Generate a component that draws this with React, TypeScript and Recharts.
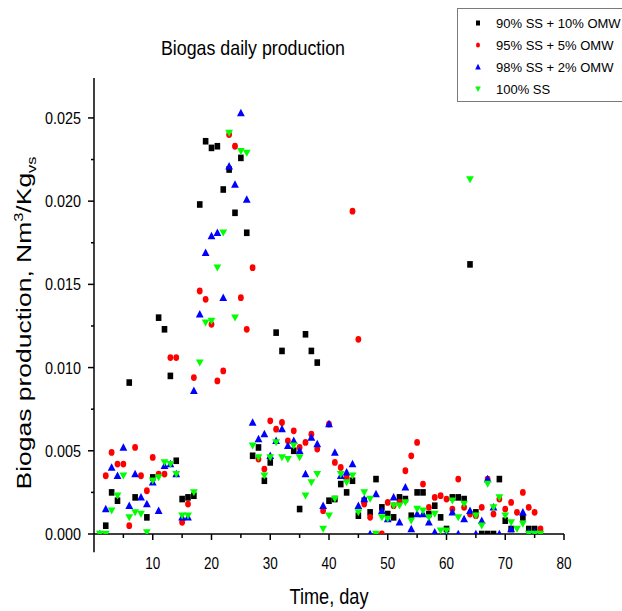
import { ScatterChart, Scatter, XAxis, YAxis, ReferenceLine, Legend } from "recharts"

// sampling days (1..76)
const DAYS = [
  1, 2, 3, 4, 5, 6, 7, 8, 9, 10, 11, 12, 13, 14, 15, 16, 17, 18, 19, 20,
  21, 22, 23, 24, 25, 26, 27, 28, 29, 30, 31, 32, 33, 34, 35, 36, 37, 38, 39, 40,
  41, 42, 43, 44, 45, 46, 47, 48, 49, 50, 51, 52, 53, 54, 55, 56, 57, 58, 59, 60,
  61, 62, 63, 64, 65, 66, 67, 68, 69, 70, 71, 72, 73, 74, 75, 76,
]

// Nm3/Kg_vs per day, null = no point visible
const SS90_OMW10 = [
  null, 0.0005, 0.0025, 0.002, null, 0.0091, 0.0022, null, 0.001, 0.0034,
  0.013, 0.0123, 0.0095, 0.0044, 0.0021, 0.0022, 0.0023, 0.0198, 0.0236, 0.0232,
  0.0233, 0.0207, 0.0219, 0.0193, 0.0226, 0.0181, 0.0047, 0.0052, 0.0032, 0.0043,
  0.0121, 0.011, null, 0.005, 0.0015, 0.012, 0.011, 0.0103, null, 0.002,
  0.0021, 0.003, 0.0025, 0.0032, 0.0011, 0.002, 0.0013, 0.0033, 0.0016, 0.0012,
  0.001, 0.0022, 0.0021, 0.0011, 0.0025, 0.0025, 0.0012, 0.0017, 0.001, 0.0003,
  0.0022, 0.0022, 0.0021, 0.0162, 0.0013, 0, 0, 0, 0.0033, 0.0008,
  0.0003, null, 0.001, 0.0003, 0.0003, null,
]
const SS95_OMW5 = [
  null, 0.0035, 0.0049, 0.0042, 0.0042, 0.0005, 0.0052, 0.0035, 0.0026, 0.0046,
  0.0036, 0.0036, 0.0106, 0.0106, 0.0007, 0.0018, 0.0094, 0.0146, 0.0141, 0.0126,
  0.0092, 0.0098, 0.024, 0.0233, 0.0142, 0.0123, 0.016, 0.0045, 0.0039, 0.0068,
  0.0063, 0.0067, 0.0056, 0.0062, 0.0052, 0.0055, 0.006, 0.0051, 0.0014, 0.0066,
  0.0043, 0.004, 0.0034, 0.0194, 0.0117, 0.0018, 0.001, null, 0, 0.0019,
  0.0017, 0.0019, 0.0038, 0.0047, 0.0055, 0.003, 0.0016, 0.0022, 0.0023, 0.0021,
  0.0015, 0.0033, 0.0016, 0.0012, 0.0011, 0.0016, 0.0033, 0.0012, 0.0021, 0.0015,
  0.0019, 0.0013, 0.0025, 0.0016, 0.0013, 0.0003,
]
const SS98_OMW2 = [
  0, 0.0015, 0.004, 0.0035, 0.0052, 0.0017, 0.0036, 0.0022, 0.0018, 0.0031,
  0.0014, 0.0041, 0.0042, 0.0036, 0.001, 0.001, 0.0086, 0.0132, 0.0169, 0.0179,
  0.0181, 0.0142, 0.0221, 0.021, 0.0253, 0.0201, 0.0067, 0.0057, 0.006, 0.0047,
  0.0056, 0.0063, 0.0053, 0.0056, 0.005, 0.0036, 0.0058, 0.0054, 0.0017, 0.0066,
  0.0049, 0.0035, 0.0037, 0.0042, 0.0017, 0.0021, 0, 0.0024, 0.0014, 0.0009,
  0.0022, 0.0007, 0.0028, 0.0003, 0.0012, 0.0012, 0.0007, 0.0001, null, 0,
  0.0013, 0, 0.0009, 0.0014, 0, 0.0008, 0.0033, 0.0016, 0, null,
  0.0003, null, 0.0013, 0.0001, 0.0001, null,
]
const SS100 = [
  0, 0, 0.0014, 0.0023, 0.0035, 0.001, 0.0013, 0.0012, 0.0001, 0.0032,
  0.0034, 0.0043, 0.0042, 0.0036, 0.0011, 0.0011, 0.0025, 0.0103, 0.0127, 0.0128,
  0.016, 0.0181, 0.0241, 0.013, 0.023, 0.0229, 0.0053, 0.0046, 0.0035, 0.0046,
  0.0055, 0.0046, 0.0045, 0.0053, 0.0046, 0.0023, 0.0031, 0.0036, 0.0003, 0.0011,
  0.0021, 0.0036, 0.0031, 0.0035, 0.0013, 0.0025, 0.0021, 0, 0.001, 0.0009,
  0.0017, 0.0017, 0.0019, 0.0008, 0.0015, 0.0014, 0.001, 0.0012, 0.0002, 0.0002,
  0.002, 0.001, 0.0018, 0.0213, 0.0011, 0.0005, 0.003, 0.0016, 0.0022, 0.0011,
  0.0007, 0.0003, 0.0006, 0, 0, 0,
]

const SERIES_NAMES = ["90% SS + 10% OMW", "95% SS + 5% OMW", "98% SS + 2% OMW", "100% SS"]
const X_TICKS = [5, 10, 15, 20, 25, 30, 35, 40, 45, 50, 55, 60, 65, 70, 75, 80]
const Y_TICKS = [0, 0.0025, 0.005, 0.0075, 0.01, 0.0125, 0.015, 0.0175, 0.02, 0.0225, 0.025]

const FONT = "'Liberation Sans', Arial, sans-serif"

const toPoints = (vals: (number | null)[]) =>
  DAYS.map((d, i) => ({ day: d, value: vals[i] })).filter((p) => p.value !== null)

// markers
const Square = ({ cx, cy }: any) => <rect x={cx - 2.8} y={cy - 3.3} width={5.6} height={6.6} fill="#000" />
const Dot = ({ cx, cy }: any) => <ellipse cx={cx} cy={cy} rx={2.9} ry={3.4} fill="#ff0000" />
const UpTri = ({ cx, cy }: any) => (
  <polygon points={`${cx},${cy - 4.3} ${cx + 3.9},${cy + 3.2} ${cx - 3.9},${cy + 3.2}`} fill="#0000ff" />
)
const DownTri = ({ cx, cy }: any) => (
  <polygon points={`${cx - 3.9},${cy - 3.2} ${cx + 3.9},${cy - 3.2} ${cx},${cy + 3.8}`} fill="#00ff00" />
)

const XTick = ({ x, y, payload }: any) => {
  const major = payload.value % 10 === 0
  return (
    <g>
      <line x1={x} x2={x} y1={y} y2={y + (major ? 6 : 4)} stroke="#000" strokeWidth={1.5} />
      {major && (
        <text x={x} y={y + 35} textAnchor="middle" fontSize={17} fontFamily={FONT} fill="#000"
          textLength={15} lengthAdjust="spacingAndGlyphs">
          {payload.value}
        </text>
      )}
    </g>
  )
}

const YTick = ({ x, y, payload }: any) => {
  const major = Math.round(payload.value * 10000) % 50 === 0
  return (
    <g>
      <line x1={x} x2={x - (major ? 6 : 3)} y1={y} y2={y} stroke="#000" strokeWidth={1.5} />
      {major && (
        <text x={x - 13} y={y} dy="0.36em" textAnchor="end" fontSize={17} fontFamily={FONT} fill="#000"
          textLength={36} lengthAdjust="spacingAndGlyphs">
          {payload.value.toFixed(3)}
        </text>
      )}
    </g>
  )
}

const renderLegend = () => {
  const markers = [
    <rect key="a" x={-2} y={-2.5} width={4} height={5} fill="#000" />,
    <ellipse key="b" cx={0} cy={0} rx={2} ry={2.6} fill="#ff0000" />,
    <polygon key="c" points="0,-3.2 2.8,2.4 -2.8,2.4" fill="#0000ff" />,
    <polygon key="d" points="-2.8,-2.4 2.8,-2.4 0,3" fill="#00ff00" />,
  ]
  return (
    <svg width={165} height={94} style={{ display: "block" }}>
      <rect x={0.5} y={0.5} width={200} height={93} fill="#fff" stroke="#7a7a7a" strokeWidth={1} />
      {SERIES_NAMES.map((name, i) => (
        <g key={name}>
          <g transform={`translate(21, ${15 + i * 22})`}>{markers[i]}</g>
          <text x={39} y={15 + i * 22} dy="0.36em" fontSize={13} fontFamily={FONT} fill="#000">
            {name}
          </text>
        </g>
      ))}
    </svg>
  )
}

export default function App() {
  return (
    <div style={{ position: "absolute", left: 0, top: 0, width: 622, height: 611, background: "#fff", overflow: "hidden" }}>
      <ScatterChart width={622} height={611} margin={{ top: 78, right: 58, bottom: 47, left: 34 }}>
        <XAxis
          type="number"
          dataKey="day"
          domain={[0, 80]}
          ticks={X_TICKS}
          interval={0}
          tick={<XTick />}
          tickLine={false}
          tickSize={0}
          tickMargin={0}
          height={30}
          axisLine={{ stroke: "#000", strokeWidth: 1.5 }}
          allowDataOverflow
          label={{
            content: () => (
              <text x={329} y={604} textAnchor="middle" fontSize={22} fontFamily={FONT} fill="#000"
                textLength={79} lengthAdjust="spacingAndGlyphs">
                Time, day
              </text>
            ),
          }}
        />
        <YAxis
          type="number"
          dataKey="value"
          domain={[0, 0.0274]}
          ticks={Y_TICKS}
          interval={0}
          tick={<YTick />}
          tickLine={false}
          tickSize={0}
          tickMargin={0}
          width={60}
          axisLine={{ stroke: "#000", strokeWidth: 1.5 }}
          allowDataOverflow
          label={{
            content: () => (
              <text x={31} y={323} transform="rotate(-90 31 323)" textAnchor="middle" fontSize={21}
                fontFamily={FONT} fill="#000" textLength={333} lengthAdjust="spacingAndGlyphs">
                Biogas production, Nm
                <tspan fontSize={13} dy={-8}>3</tspan>
                <tspan dy={8}>/Kg</tspan>
                <tspan fontSize={13} dy={5}>vs</tspan>
              </text>
            ),
          }}
        />
        <ReferenceLine
          segment={[{ x: 0, y: -0.0011 }, { x: 0, y: 0 }]}
          ifOverflow="visible"
          stroke="#000"
          strokeWidth={1.5}
        />
        <Legend
          layout="vertical"
          align="center"
          verticalAlign="middle"
          content={renderLegend}
          wrapperStyle={{ position: "absolute", left: 457, top: 8, width: 165, height: 94 }}
        />
        <Scatter name={SERIES_NAMES[0]} data={toPoints(SS90_OMW10)} shape={Square} isAnimationActive={false} />
        <Scatter name={SERIES_NAMES[1]} data={toPoints(SS95_OMW5)} shape={Dot} isAnimationActive={false} />
        <Scatter name={SERIES_NAMES[2]} data={toPoints(SS98_OMW2)} shape={UpTri} isAnimationActive={false} />
        <Scatter name={SERIES_NAMES[3]} data={toPoints(SS100)} shape={DownTri} isAnimationActive={false} />
        <text x={253} y={55} textAnchor="middle" fontSize={21} fontFamily={FONT} fill="#000"
          textLength={184} lengthAdjust="spacingAndGlyphs">
          Biogas daily production
        </text>
      </ScatterChart>
    </div>
  )
}
